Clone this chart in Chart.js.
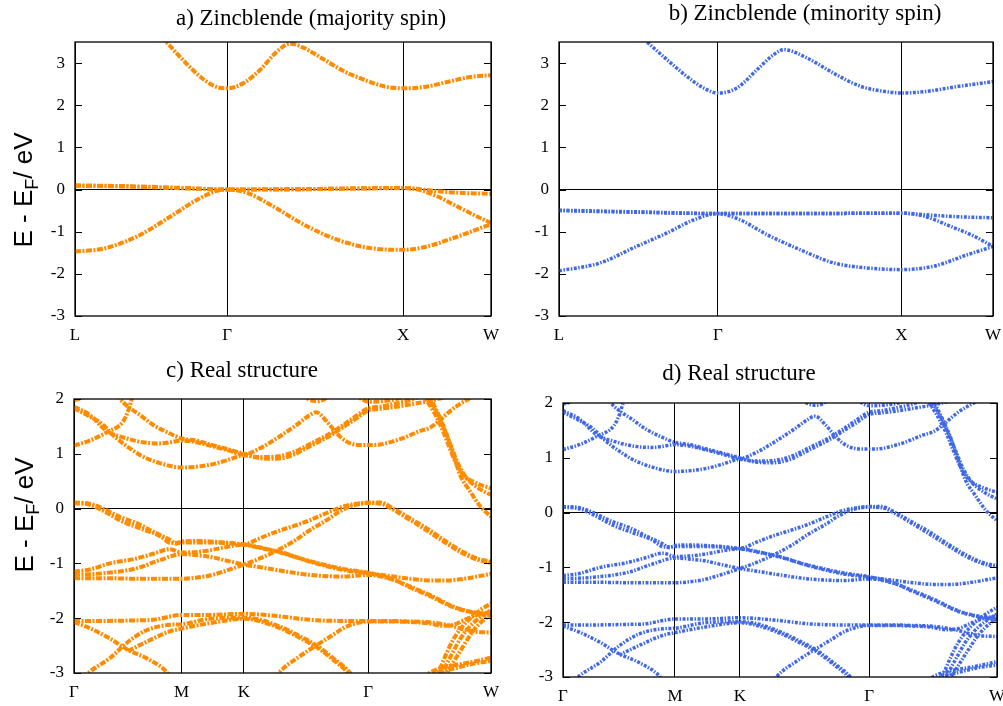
<!DOCTYPE html>
<html>
<head>
<meta charset="utf-8">
<script src="https://cdn.jsdelivr.net/npm/chart.js@4.4.1/dist/chart.umd.min.js"></script>
<style>
  body { margin: 0; background: #fff; width: 1003px; height: 706px; position: relative; overflow: hidden; }
  canvas { position: absolute; }
</style>
</head>
<body>
<canvas id="chartA" width="500" height="345" style="left:0;top:0"></canvas>
<canvas id="chartB" width="503" height="345" style="left:500px;top:0"></canvas>
<canvas id="chartC" width="500" height="361" style="left:0;top:345px"></canvas>
<canvas id="chartD" width="503" height="361" style="left:500px;top:345px"></canvas>
<script>
// k-path positions of the high symmetry points and their labels
var zbTicks = [0, 0.866, 1.866, 2.366];
var zbLabels = ["L", "Γ", "X", "W"];
var rsTicks = [0, 0.577, 0.911, 1.577, 2.236];
var rsLabels = ["Γ", "M", "K", "Γ", "W"];
var zbEnergyTicks = [-3, -2, -1, 0, 1, 2, 3];
var rsEnergyTicks = [-3, -2, -1, 0, 1, 2];

// a) zincblende, majority spin  [k, E - EF]
var upCond = [[0.45,3.82],[0.524,3.48],[0.638,2.97],[0.732,2.61],[0.808,2.43],[0.866,2.40],[0.960,2.53],[1.055,2.85],[1.150,3.28],[1.225,3.46],[1.301,3.36],[1.414,3.09],[1.528,2.81],[1.642,2.61],[1.756,2.45],[1.866,2.40],[1.983,2.43],[2.116,2.55],[2.248,2.67],[2.366,2.71]];
var upHeavy = [[0,0.09],[0.3,0.07],[0.6,0.03],[0.866,0.0],[1.2,0.01],[1.5,0.02],[1.866,0.04],[1.98,0.0],[2.06,-0.04],[2.2,-0.08],[2.366,-0.10]];
var upLight = [[0,0.10],[0.3,0.08],[0.6,0.04],[0.866,0.0],[1.2,0.0],[1.5,0.02],[1.866,0.03],[1.95,0.0],[2.059,-0.16],[2.173,-0.40],[2.287,-0.64],[2.366,-0.79]];
var upLow = [[0,-1.47],[0.164,-1.40],[0.354,-1.11],[0.543,-0.64],[0.695,-0.24],[0.808,-0.03],[0.866,0.0],[0.979,-0.08],[1.111,-0.36],[1.301,-0.83],[1.491,-1.19],[1.680,-1.39],[1.866,-1.43],[1.983,-1.37],[2.153,-1.15],[2.366,-0.82]];

// b) zincblende, minority spin
var dnCond = [[0.42,3.73],[0.480,3.5],[0.589,3.08],[0.698,2.68],[0.788,2.41],[0.866,2.29],[0.970,2.41],[1.079,2.84],[1.170,3.20],[1.225,3.32],[1.352,3.12],[1.497,2.76],[1.643,2.45],[1.770,2.33],[1.866,2.29],[2.006,2.33],[2.151,2.43],[2.366,2.56]];
var dnHeavy = [[0,-0.49],[0.43,-0.53],[0.866,-0.57],[1.3,-0.57],[1.866,-0.56],[2.0,-0.60],[2.2,-0.65],[2.366,-0.67]];
var dnLight = [[0,-0.50],[0.43,-0.54],[0.866,-0.57],[1.3,-0.57],[1.866,-0.56],[1.988,-0.63],[2.133,-0.87],[2.26,-1.10],[2.366,-1.35]];
var dnLow = [[0,-1.93],[0.225,-1.74],[0.407,-1.38],[0.589,-1.03],[0.734,-0.72],[0.866,-0.57],[0.988,-0.72],[1.134,-1.07],[1.316,-1.43],[1.497,-1.74],[1.679,-1.86],[1.866,-1.90],[2.042,-1.82],[2.224,-1.55],[2.366,-1.35]];

// c), d) real structure
var rsCond1 = [[0,1.83],[0.084,1.68],[0.156,1.53],[0.209,1.34],[0.299,1.10],[0.370,0.95],[0.460,0.83],[0.577,0.75],[0.729,0.80],[0.818,0.88],[0.911,0.97],[0.997,0.94],[1.086,0.95],[1.176,1.03],[1.266,1.18],[1.373,1.37],[1.445,1.53],[1.516,1.70],[1.577,1.83],[1.642,1.86],[1.713,1.91],[1.80,1.98],[1.85,2.04]];
var rsCond2 = [[0,1.86],[0.084,1.71],[0.174,1.42],[0.263,1.30],[0.370,1.21],[0.460,1.19],[0.514,1.21],[0.577,1.24],[0.657,1.21],[0.729,1.15],[0.818,1.07],[0.911,0.99],[0.997,1.10],[1.086,1.28],[1.194,1.53],[1.266,1.71],[1.298,1.76],[1.355,1.59],[1.409,1.37],[1.463,1.22],[1.534,1.16],[1.577,1.16],[1.642,1.17],[1.713,1.23],[1.767,1.29],[1.85,1.41],[1.91,1.48],[1.964,1.62],[2.0,1.73],[2.035,1.83],[2.08,1.93],[2.116,2.0],[2.14,2.05]];
var rsCond3 = [[0,1.15],[0.084,1.24],[0.174,1.39],[0.263,1.59],[0.29,1.78],[0.308,1.98],[0.32,2.1]];
var rsCond4 = [[0.23,2.1],[0.245,2.01],[0.290,1.86],[0.353,1.71],[0.424,1.53],[0.514,1.37],[0.577,1.28],[0.657,1.24],[0.729,1.17],[0.818,1.09],[0.911,1.0],[0.997,0.92],[1.086,0.91],[1.176,0.98],[1.266,1.14],[1.373,1.33],[1.445,1.49],[1.516,1.65],[1.577,1.79],[1.642,1.82],[1.713,1.85],[1.80,1.90],[1.9,1.96],[2.0,2.04]];
var rsCond5 = [[1.50,2.1],[1.54,2.0],[1.577,1.95],[1.65,1.96],[1.75,2.02],[1.8,2.1]];
var rsCond6 = [[1.22,2.1],[1.26,1.99],[1.30,1.96],[1.34,1.99],[1.38,2.1]];
var rsCond7 = [[0,1.98],[0.04,2.02],[0.08,2.1]];
var rsSteep1 = [[1.86,2.1],[1.883,2.01],[1.928,1.77],[1.973,1.46],[2.008,1.16],[2.044,0.86],[2.089,0.61],[2.161,0.46],[2.236,0.37]];
var rsSteep2 = [[1.875,2.1],[1.901,2.01],[1.946,1.74],[1.991,1.40],[2.026,1.10],[2.062,0.80],[2.107,0.55],[2.170,0.37],[2.236,0.25]];
var rsSteep3 = [[1.89,2.1],[1.91,2.01],[1.955,1.71],[2.0,1.34],[2.035,0.98],[2.071,0.61],[2.125,0.31],[2.179,0.04],[2.236,-0.15]];
var rsVal1 = [[0,0.11],[0.084,0.09],[0.156,0.0],[0.245,-0.15],[0.353,-0.29],[0.424,-0.42],[0.514,-0.57],[0.55,-0.64],[0.577,-0.60],[0.657,-0.59],[0.729,-0.60],[0.818,-0.62],[0.911,-0.65],[0.997,-0.54],[1.086,-0.42],[1.176,-0.32],[1.266,-0.21],[1.355,-0.08],[1.445,0.04],[1.516,0.09],[1.577,0.11],[1.642,0.11],[1.713,0.0],[1.803,-0.18],[1.892,-0.36],[1.982,-0.57],[2.071,-0.76],[2.161,-0.91],[2.236,-0.97]];
var rsVal2 = [[0,0.10],[0.084,0.07],[0.156,-0.04],[0.263,-0.24],[0.353,-0.36],[0.46,-0.50],[0.52,-0.63],[0.577,-0.62],[0.729,-0.62],[0.911,-0.66],[1.0,-0.72],[1.104,-0.79],[1.266,-0.97],[1.445,-1.12],[1.577,-1.18],[1.713,-1.24],[1.803,-1.28],[1.91,-1.31],[2.0,-1.31],[2.071,-1.29],[2.161,-1.24],[2.236,-1.19]];
var rsVal3 = [[0,-1.15],[0.084,-1.11],[0.192,-1.0],[0.335,-0.91],[0.43,-0.82],[0.514,-0.74],[0.577,-0.80],[0.657,-0.79],[0.729,-0.76],[0.818,-0.70],[0.911,-0.66],[1.0,-0.71],[1.104,-0.80],[1.266,-0.96],[1.445,-1.10],[1.577,-1.17],[1.70,-1.28],[1.80,-1.42],[1.91,-1.58],[2.035,-1.79],[2.125,-1.88],[2.236,-1.93]];
var rsVal4 = [[0,-1.21],[0.156,-1.18],[0.335,-1.09],[0.46,-0.94],[0.577,-0.83],[0.657,-0.85],[0.729,-0.88],[0.818,-0.95],[0.911,-1.02],[1.0,-1.07],[1.086,-1.12],[1.266,-1.21],[1.445,-1.24],[1.577,-1.21],[1.713,-1.30],[1.803,-1.44],[1.91,-1.60],[2.035,-1.80],[2.125,-1.89],[2.236,-1.96]];
var rsVal5 = [[0,-1.27],[0.156,-1.27],[0.353,-1.28],[0.577,-1.28],[0.657,-1.26],[0.729,-1.22],[0.818,-1.13],[0.911,-1.02],[0.997,-0.91],[1.086,-0.77],[1.176,-0.60],[1.266,-0.39],[1.355,-0.21],[1.42,-0.06],[1.50,0.06],[1.577,0.10],[1.642,0.09],[1.713,-0.02],[1.803,-0.21],[1.892,-0.40],[1.982,-0.60],[2.071,-0.79],[2.161,-0.93],[2.236,-0.99]];
var rsLow1 = [[0,-2.05],[0.156,-2.05],[0.335,-2.04],[0.424,-2.03],[0.514,-1.97],[0.577,-1.94],[0.729,-1.94],[0.911,-1.92],[1.086,-1.96],[1.266,-2.03],[1.445,-2.05],[1.577,-2.05],[1.713,-2.05],[1.803,-2.06],[1.892,-2.07],[1.982,-2.11],[2.035,-2.15],[2.107,-2.22],[2.161,-2.25],[2.236,-2.26]];
var rsLow2 = [[0,-2.07],[0.084,-2.18],[0.192,-2.37],[0.29,-2.58],[0.389,-2.73],[0.496,-2.98],[0.52,-3.1]];
var rsLow3 = [[0.05,-3.1],[0.084,-2.98],[0.192,-2.73],[0.29,-2.43],[0.389,-2.22],[0.514,-2.12],[0.577,-2.11],[0.729,-2.01],[0.911,-1.99],[1.0,-2.03],[1.123,-2.18],[1.212,-2.33],[1.302,-2.50],[1.39,-2.73],[1.481,-3.0],[1.50,-3.1]];
var rsLow4 = [[0.29,-2.60],[0.389,-2.43],[0.514,-2.24],[0.577,-2.19],[0.729,-2.09],[0.911,-2.01],[1.0,-2.06],[1.123,-2.21],[1.212,-2.36],[1.302,-2.53],[1.39,-2.76],[1.47,-3.0],[1.49,-3.1]];
var rsLow5 = [[1.08,-3.1],[1.104,-2.98],[1.2,-2.72],[1.302,-2.49],[1.39,-2.30],[1.445,-2.18],[1.516,-2.09],[1.577,-2.06],[1.70,-2.06],[1.80,-2.07],[1.892,-2.09],[1.982,-2.14],[2.035,-2.12],[2.10,-2.02],[2.161,-1.94],[2.236,-1.88]];
var rsW1 = [[1.93,-3.1],[1.964,-2.9],[2.0,-2.62],[2.035,-2.38],[2.071,-2.2],[2.125,-2.0],[2.179,-1.85],[2.236,-1.73]];
var rsW2 = [[1.955,-3.1],[1.991,-2.88],[2.035,-2.6],[2.071,-2.38],[2.125,-2.14],[2.179,-1.98],[2.236,-1.85]];
var rsW3 = [[1.98,-3.1],[2.026,-2.85],[2.089,-2.5],[2.143,-2.22],[2.20,-2.02],[2.236,-1.93]];
var rsW4 = [[1.87,-3.1],[1.91,-2.99],[1.98,-2.9],[2.071,-2.84],[2.161,-2.78],[2.236,-2.72]];
var rsW5 = [[1.90,-3.1],[1.95,-3.0],[2.035,-2.92],[2.125,-2.84],[2.236,-2.78]];

var realBands = [rsCond1, rsCond2, rsCond3, rsCond4, rsCond5, rsCond6, rsCond7,
  rsSteep1, rsSteep2, rsSteep3, rsVal1, rsVal2, rsVal3, rsVal4, rsVal5,
  rsLow1, rsLow2, rsLow3, rsLow4, rsLow5, rsW1, rsW2, rsW3, rsW4, rsW5];

var ORANGE = "#ff8c00";
var BLUE = "#4169e6";
var serif = "'Liberation Serif', 'Times New Roman', serif";
var sans = "'Liberation Sans', Arial, sans-serif";

// draws the gnuplot-like frame, inward ticks, panel title and y label
function framePlugin(cfg) {
  return {
    id: "frame",
    afterDraw: function (chart) {
      var ctx = chart.ctx;
      var a = chart.chartArea;
      var ys = chart.scales.y;
      ctx.save();
      ctx.strokeStyle = "#000";
      ctx.lineWidth = 1.3;
      ctx.strokeRect(a.left, a.top, a.right - a.left, a.bottom - a.top);
      ctx.lineWidth = 1;
      cfg.eTicks.forEach(function (v) {
        var y = Math.round(ys.getPixelForValue(v)) + 0.5;
        ctx.beginPath();
        ctx.moveTo(a.left, y); ctx.lineTo(a.left + 7, y);
        ctx.moveTo(a.right - 7, y); ctx.lineTo(a.right, y);
        ctx.stroke();
      });
      ctx.fillStyle = "#000";
      ctx.font = "23px " + serif;
      ctx.textAlign = "center";
      ctx.textBaseline = "middle";
      ctx.fillText(cfg.title, cfg.titleX, cfg.titleY);
      if (cfg.yLabel) {
        ctx.translate(cfg.yLabel[0], cfg.yLabel[1]);
        ctx.rotate(-Math.PI / 2);
        ctx.textAlign = "left";
        ctx.textBaseline = "alphabetic";
        ctx.font = "26px " + sans;
        var w1 = ctx.measureText("E - E").width;
        var w3 = ctx.measureText("/ eV").width;
        ctx.font = "18px " + sans;
        var w2 = ctx.measureText("F").width;
        var x0 = -(w1 + w2 + w3) / 2;
        ctx.font = "26px " + sans;
        ctx.fillText("E - E", x0, 0);
        ctx.font = "18px " + sans;
        ctx.fillText("F", x0 + w1, 6);
        ctx.font = "26px " + sans;
        ctx.fillText("/ eV", x0 + w1 + w2, 0);
      }
      ctx.restore();
    }
  };
}

function bandChart(id, cfg) {
  var datasets = cfg.bands.map(function (b) {
    return {
      data: b.map(function (p) { return { x: p[0], y: p[1] }; }),
      showLine: true,
      borderColor: cfg.color,
      borderWidth: cfg.width,
      borderDash: cfg.dash,
      pointRadius: 0,
      fill: false,
      cubicInterpolationMode: "monotone",
      clip: 0
    };
  });
  var tickFont = { family: serif, size: 17 };
  return new Chart(document.getElementById(id), {
    type: "scatter",
    data: { datasets: datasets },
    options: {
      responsive: false,
      animation: false,
      devicePixelRatio: 1,
      layout: { padding: cfg.pad },
      plugins: { legend: { display: false }, tooltip: { enabled: false } },
      scales: {
        x: {
          type: "linear",
          min: 0,
          max: cfg.kTicks[cfg.kTicks.length - 1],
          afterBuildTicks: function (s) { s.ticks = cfg.kTicks.map(function (v) { return { value: v }; }); },
          afterFit: function (s) { s.height = cfg.xHeight; s.paddingLeft = 0; s.paddingRight = 0; },
          ticks: {
            autoSkip: false, maxRotation: 0, padding: cfg.xPad, color: "#000", font: tickFont,
            callback: function (v, i) { return cfg.kLabels[i]; }
          },
          grid: { color: "#000", lineWidth: 1, drawTicks: false },
          border: { display: false }
        },
        y: {
          min: cfg.eMin,
          max: cfg.eMax,
          afterBuildTicks: function (s) { s.ticks = cfg.eTicks.map(function (v) { return { value: v }; }); },
          afterFit: function (s) { s.width = cfg.yWidth; s.paddingTop = 0; s.paddingBottom = 0; },
          ticks: { padding: 10, color: "#000", font: tickFont },
          grid: {
            color: function (c) { return c.tick && c.tick.value === 0 ? "#000" : "rgba(0,0,0,0)"; },
            lineWidth: 1, drawTicks: false
          },
          border: { display: false }
        }
      }
    },
    plugins: [framePlugin(cfg)]
  });
}

var orangeDash = [6, 1.5, 2, 1.5];
var blueDash = [3, 1.5, 1.5, 1.5];

bandChart("chartA", {
  bands: [upCond, upHeavy, upLight, upLow], color: ORANGE, width: 4, dash: orangeDash,
  kTicks: zbTicks, kLabels: zbLabels, eMin: -3, eMax: 3.5, eTicks: zbEnergyTicks,
  pad: { top: 42, right: 9, bottom: 0, left: 0 }, yWidth: 75, xHeight: 29, xPad: 9,
  title: "a) Zincblende (majority spin)", titleX: 311, titleY: 19, yLabel: [32, 190]
});
bandChart("chartB", {
  bands: [dnCond, dnHeavy, dnLight, dnLow], color: BLUE, width: 3.5, dash: blueDash,
  kTicks: zbTicks, kLabels: zbLabels, eMin: -3, eMax: 3.5, eTicks: zbEnergyTicks,
  pad: { top: 42, right: 10, bottom: 0, left: 0 }, yWidth: 59, xHeight: 29, xPad: 9,
  title: "b) Zincblende (minority spin)", titleX: 305, titleY: 14, yLabel: null
});
bandChart("chartC", {
  bands: realBands, color: ORANGE, width: 4, dash: orangeDash,
  kTicks: rsTicks, kLabels: rsLabels, eMin: -3, eMax: 2, eTicks: rsEnergyTicks,
  pad: { top: 54, right: 9, bottom: 0, left: 0 }, yWidth: 74, xHeight: 33, xPad: 9,
  title: "c) Real structure", titleX: 242, titleY: 26, yLabel: [33, 170]
});
bandChart("chartD", {
  bands: realBands, color: BLUE, width: 3.5, dash: blueDash,
  kTicks: rsTicks, kLabels: rsLabels, eMin: -3, eMax: 2, eTicks: rsEnergyTicks,
  pad: { top: 58, right: 6, bottom: 0, left: 0 }, yWidth: 63, xHeight: 29, xPad: 9,
  title: "d) Real structure", titleX: 239, titleY: 29, yLabel: null
});
</script>
</body>
</html>
